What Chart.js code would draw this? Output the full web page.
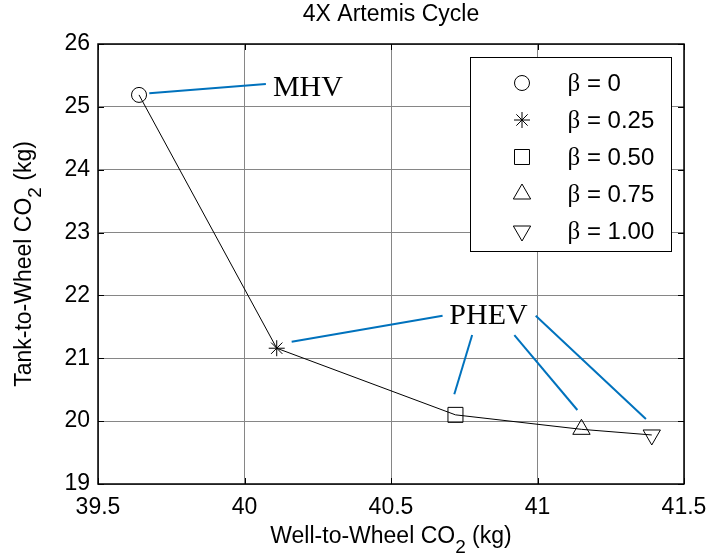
<!DOCTYPE html>
<html>
<head>
<meta charset="utf-8">
<script src="https://cdn.jsdelivr.net/npm/chart.js@4/dist/chart.umd.min.js"></script>
<style>
  html, body { margin: 0; padding: 0; background: #fff; }
  #wrap { width: 710px; height: 560px; }
</style>
</head>
<body>
<div id="wrap"><canvas id="c" width="710" height="560"></canvas></div>
<script>
// Well-to-wheel vs tank-to-wheel CO2 for each blending factor beta
const wellToWheel = [39.64, 40.11, 40.72, 41.15, 41.39];
const tankToWheel = [25.19, 21.16, 20.10, 19.87, 19.78];
const betaLabels = ['0', '0.25', '0.50', '0.75', '1.00'];
const markerStyles = ['circle', 'star', 'rect', 'triangle', 'triangle'];
const markerRotation = [0, 0, 0, 0, 180];
const markerRadius = [7.5, 8, 10.6, 10, 10];
const xTicks = [39.5, 40, 40.5, 41, 41.5];
const yTicks = [19, 20, 21, 22, 23, 24, 25, 26];

// Callout labels (anchored at left edge / vertical middle) and their leader lines, in data units
const calloutText = ['MHV', 'PHEV'];
const calloutAnchor = [[40.097, 25.30], [40.699, 21.673]];
const calloutLines = [
  [[40.073, 25.363], [39.675, 25.215]],
  [[40.676, 21.677], [40.161, 21.264]],
  [[40.777, 21.370], [40.716, 20.427]],
  [[40.921, 21.370], [41.136, 20.177]],
  [[40.994, 21.677], [41.370, 20.034]]
];

const SANS = "'Liberation Sans', Arial, Helvetica, sans-serif";
const SERIF = "'Liberation Serif', 'Times New Roman', serif";
const TICK_FONT = { family: SANS, size: 23 };

const datasets = [{
  label: 'trend',
  data: wellToWheel.map((x, i) => ({ x, y: tankToWheel[i] })),
  showLine: true,
  borderColor: '#000',
  borderWidth: 1,
  pointRadius: 0,
  fill: false
}];
wellToWheel.forEach((x, i) => {
  datasets.push({
    label: 'β = ' + betaLabels[i],
    data: [{ x, y: tankToWheel[i] }],
    showLine: false,
    pointStyle: markerStyles[i],
    rotation: markerRotation[i],
    pointRadius: markerRadius[i],
    borderColor: '#000',
    backgroundColor: 'rgba(0,0,0,0)',
    pointBorderWidth: 1
  });
});

function drawRun(ctx, parts, x, y) {
  // parts drawn left-to-right from x; subscripts shifted down and reduced
  let cx = x;
  parts.forEach(p => {
    ctx.font = (p.sub ? 19 : 23) + 'px ' + SANS;
    ctx.fillText(p.t, cx, y + (p.sub ? 11 : 0));
    cx += ctx.measureText(p.t).width;
  });
}
function runWidth(ctx, parts) {
  let w = 0;
  parts.forEach(p => {
    ctx.font = (p.sub ? 19 : 23) + 'px ' + SANS;
    w += ctx.measureText(p.t).width;
  });
  return w;
}

const decorations = {
  id: 'decorations',
  afterDatasetsDraw(chart) {
    const ctx = chart.ctx;
    const xs = chart.scales.x, ys = chart.scales.y;
    const a = chart.chartArea;
    ctx.save();

    // callout leader lines
    ctx.strokeStyle = '#0072BD';
    ctx.lineWidth = 2;
    calloutLines.forEach(seg => {
      ctx.beginPath();
      ctx.moveTo(xs.getPixelForValue(seg[0][0]), ys.getPixelForValue(seg[0][1]));
      ctx.lineTo(xs.getPixelForValue(seg[1][0]), ys.getPixelForValue(seg[1][1]));
      ctx.stroke();
    });
    // callout texts
    ctx.fillStyle = '#000';
    ctx.font = '30px ' + SERIF;
    ctx.textAlign = 'left';
    ctx.textBaseline = 'middle';
    calloutText.forEach((t, i) => {
      ctx.fillText(t, xs.getPixelForValue(calloutAnchor[i][0]), ys.getPixelForValue(calloutAnchor[i][1]));
    });

    // legend box
    const lw = 201, lh = 194;
    const lx = Math.round(a.right - 13 - lw) + 0.5, ly = Math.round(a.top + 13) + 0.5;
    ctx.fillStyle = '#fff';
    ctx.fillRect(lx, ly, lw, lh);
    ctx.strokeStyle = '#000';
    ctx.lineWidth = 1;
    ctx.strokeRect(lx, ly, lw, lh);
    const rowGap = 37, firstRow = ly + 25.5;
    for (let i = 1; i < chart.data.datasets.length; i++) {
      const ds = chart.data.datasets[i];
      const ry = firstRow + (i - 1) * rowGap;
      ctx.strokeStyle = '#000';
      ctx.fillStyle = 'rgba(0,0,0,0)';
      ctx.lineWidth = 1;
      Chart.helpers.drawPoint(ctx, {
        pointStyle: ds.pointStyle, rotation: ds.rotation, radius: ds.pointRadius, borderWidth: 1
      }, lx + 51.5, ry);
      ctx.fillStyle = '#000';
      ctx.textBaseline = 'middle';
      const [beta, rest] = [ds.label.slice(0, 1), ds.label.slice(1)];
      ctx.font = '25px ' + SERIF;
      const tx = lx + 97;
      ctx.fillText(beta, tx, ry + 1);
      const bw = ctx.measureText(beta).width;
      ctx.font = '24px ' + SANS;
      ctx.fillText(rest, tx + bw, ry + 1);
    }

    // axes box with inward tick marks on all four sides
    ctx.strokeStyle = '#000';
    ctx.lineWidth = 1.5;
    ctx.strokeRect(a.left, a.top, a.right - a.left, a.bottom - a.top);
    ctx.beginPath();
    const tl = 6;
    xTicks.forEach(v => {
      const px = Math.round(xs.getPixelForValue(v)) + 0.5;
      ctx.moveTo(px, a.bottom); ctx.lineTo(px, a.bottom - tl);
      ctx.moveTo(px, a.top); ctx.lineTo(px, a.top + tl);
    });
    yTicks.forEach(v => {
      const py = Math.round(ys.getPixelForValue(v)) + 0.5;
      ctx.moveTo(a.left, py); ctx.lineTo(a.left + tl, py);
      ctx.moveTo(a.right, py); ctx.lineTo(a.right - tl, py);
    });
    ctx.lineWidth = 1;
    ctx.stroke();

    // title and axis titles
    ctx.fillStyle = '#000';
    ctx.textAlign = 'center';
    ctx.textBaseline = 'middle';
    ctx.font = '23px ' + SANS;
    const midX = (a.left + a.right) / 2, midY = (a.top + a.bottom) / 2;
    ctx.fillText('4X Artemis Cycle', midX, 15);

    ctx.textAlign = 'left';
    const xParts = [{ t: 'Well-to-Wheel CO' }, { t: '2', sub: true }, { t: ' (kg)' }];
    drawRun(ctx, xParts, midX - runWidth(ctx, xParts) / 2, 537);

    const yParts = [{ t: 'Tank-to-Wheel CO' }, { t: '2', sub: true }, { t: ' (kg)' }];
    ctx.save();
    ctx.translate(25, midY);
    ctx.rotate(-Math.PI / 2);
    drawRun(ctx, yParts, -runWidth(ctx, yParts) / 2, 0);
    ctx.restore();

    ctx.restore();
  }
};

new Chart(document.getElementById('c'), {
  type: 'scatter',
  data: { datasets },
  options: {
    responsive: false,
    animation: false,
    devicePixelRatio: 1,
    layout: { padding: { left: 0, top: 44, right: 26, bottom: 0 } },
    plugins: {
      legend: { display: false },
      tooltip: { enabled: false },
      title: { display: false }
    },
    scales: {
      x: {
        type: 'linear',
        min: 39.5,
        max: 41.5,
        afterBuildTicks: s => { s.ticks = xTicks.map(v => ({ value: v })); },
        afterFit: s => { s.height = 76; s.paddingLeft = 0; s.paddingRight = 0; },
        grid: { color: '#868686', lineWidth: 1, drawTicks: false },
        border: { display: false },
        ticks: {
          font: TICK_FONT, color: '#000', padding: 10, maxRotation: 0, autoSkip: false,
          callback: v => String(v)
        }
      },
      y: {
        type: 'linear',
        min: 19,
        max: 26,
        afterBuildTicks: s => { s.ticks = yTicks.map(v => ({ value: v })); },
        afterFit: s => { s.width = 98; s.paddingTop = 0; s.paddingBottom = 0; },
        grid: { color: '#868686', lineWidth: 1, drawTicks: false },
        border: { display: false },
        ticks: { font: TICK_FONT, color: '#000', padding: 8, autoSkip: false, callback: v => String(v) }
      }
    }
  },
  plugins: [decorations]
});
</script>
</body>
</html>
